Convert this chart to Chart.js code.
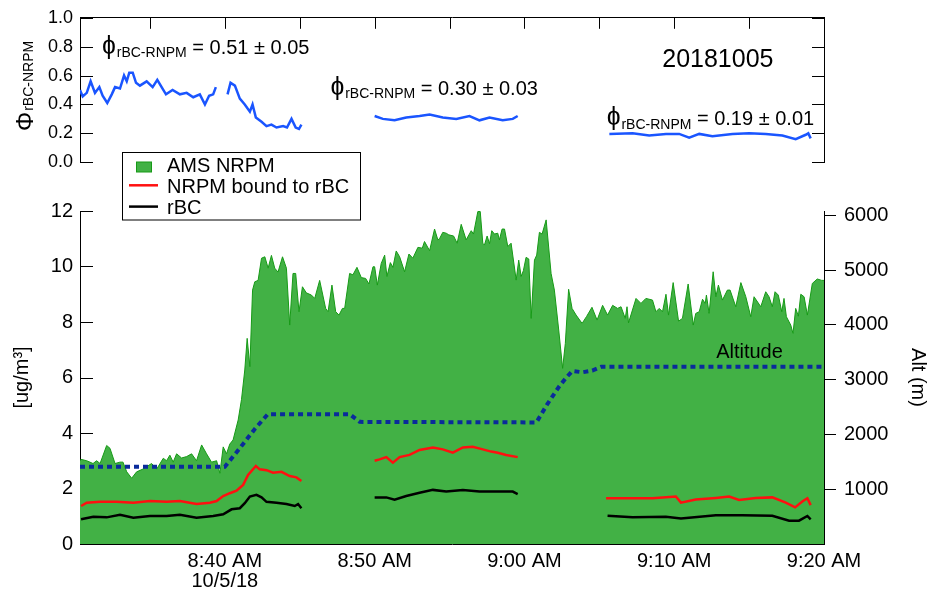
<!DOCTYPE html>
<html>
<head>
<meta charset="utf-8">
<script src="https://cdn.jsdelivr.net/npm/chart.js@4.4.1/dist/chart.umd.min.js"></script>
<style>
  html, body { margin: 0; padding: 0; background: #fff; }
  #wrap { position: relative; width: 933px; height: 591px; }
  #topChart { position: absolute; left: 0; top: 0; }
  #botChart { position: absolute; left: 0; top: 140px; }
</style>
</head>
<body>
<div id="wrap">
  <canvas id="topChart" width="933" height="180"></canvas>
  <canvas id="botChart" width="933" height="451"></canvas>
</div>
<script>
// time is in minutes after 8:00 AM (10/5/18)
const xMin = 30.33, xMax = 80;
const timeTicks = [35, 40, 45, 50, 55, 60, 65, 70, 75, 80];
const timeLabels = { 40: ['8:40 AM', '10/5/18'], 50: '8:50 AM', 60: '9:00 AM', 70: '9:10 AM', 80: '9:20 AM' };
const phiTicks = [0, 0.2, 0.4, 0.6, 0.8, 1.0];
const massTicks = [0, 2, 4, 6, 8, 10, 12];
const altTicks = [1000, 2000, 3000, 4000, 5000, 6000];

// AMS NRPM (ug/m3)
const amsTime = [30.33, 30.40, 30.78, 31.2, 31.44, 31.67, 32.11, 32.33, 32.67, 33.0, 33.2, 33.45, 33.78, 34.11, 34.53, 35.11, 35.45, 35.89, 36.11, 36.33,
  36.55, 36.78, 37.11, 37.45, 37.78, 38.11, 38.45, 38.78, 39.11, 39.45, 39.67, 39.89, 40.11, 40.33, 40.55, 40.89, 41.11, 41.33, 41.49, 41.67,
  41.85, 42.0, 42.22, 42.45, 42.67, 42.89, 43.11, 43.33, 43.55, 43.85, 44.11, 44.33, 44.55, 44.73, 44.95, 45.18, 45.44, 45.78, 46.0, 46.33,
  46.73, 46.89, 47.15, 47.4, 47.62, 47.85, 48.0, 48.33, 48.55, 48.82, 49.11, 49.4, 49.62, 49.89, 50.0, 50.18, 50.44, 50.67, 50.82, 51.05,
  51.22, 51.44, 51.67, 52.0, 52.29, 52.55, 52.89, 53.18, 53.33, 53.67, 54.0, 54.22, 54.33, 54.55, 54.78, 54.95, 55.27, 55.51, 55.78, 56.11,
  56.45, 56.6, 56.89, 57.05, 57.22, 57.33, 57.51, 57.67, 57.82, 58.0, 58.22, 58.33, 58.51, 58.67, 58.89, 59.11, 59.45, 59.62, 59.78, 59.93,
  60.11, 60.29, 60.45, 60.67, 60.82, 61.0, 61.18, 61.45, 61.78, 62.0, 62.29, 62.55, 62.73, 62.95, 63.18, 63.45, 63.85, 64.15, 64.51, 64.85,
  65.22, 65.55, 65.89, 66.22, 66.45, 66.73, 66.85, 66.95, 67.45, 67.78, 68.11, 68.55, 68.78, 69.0, 69.22, 69.45, 69.62, 69.93, 70.29, 70.55,
  70.93, 71.27, 71.44, 71.67, 71.89, 72.07, 72.15, 72.33, 72.6, 72.78, 72.95, 73.22, 73.55, 73.73, 74.11, 74.45, 74.78, 75.11, 75.33, 75.78,
  76.11, 76.33, 76.55, 76.73, 76.95, 77.18, 77.33, 77.49, 77.78, 77.93, 78.11, 78.29, 78.45, 78.67, 78.89, 79.22, 79.55, 79.85, 80.0];
const amsNrpm = [3.0, 3.05, 3.0, 2.9, 3.0, 2.9, 3.55, 3.45, 2.9, 2.95, 2.95, 2.6, 2.37, 2.6, 2.7, 2.9, 2.7, 3.09, 3.0, 3.2,
  2.95, 3.25, 3.1, 3.15, 3.25, 3.0, 3.57, 3.25, 2.95, 3.0, 2.55, 3.5, 3.25, 3.6, 3.75, 4.47, 5.2, 6.27, 7.41, 6.39,
  9.15, 9.45, 9.5, 10.3, 10.35, 9.94, 10.4, 9.94, 9.8, 10.35, 9.94, 7.89, 9.75, 9.75, 8.37, 9.27, 9.05, 8.97, 8.85, 9.5,
  8.49, 8.37, 9.33, 8.37, 8.25, 8.49, 8.49, 9.75, 9.7, 9.97, 9.6, 9.57, 9.37, 9.99, 9.99, 9.33, 10.11, 10.41, 9.64, 10.14,
  9.97, 10.56, 10.35, 9.81, 10.45, 10.3, 10.69, 10.66, 10.9, 10.57, 11.35, 10.96, 11.0, 11.23, 11.2, 11.14, 11.1, 10.84, 11.52, 10.96,
  11.29, 11.17, 11.98, 11.98, 10.84, 10.77, 11.1, 10.82, 11.29, 11.17, 11.2, 10.96, 11.35, 11.35, 10.72, 10.84, 9.51, 10.23, 9.64, 9.85,
  10.33, 10.27, 8.13, 10.23, 10.41, 11.23, 11.17, 11.68, 9.75, 9.15, 7.71, 6.33, 7.23, 9.18, 8.49, 8.25, 7.95, 8.2, 8.53, 8.07,
  8.6, 8.25, 8.6, 8.49, 8.55, 8.13, 8.55, 7.97, 8.85, 8.67, 8.85, 8.79, 8.37, 8.49, 8.37, 9.0, 8.25, 9.42, 8.03, 8.13,
  9.37, 7.89, 8.31, 8.37, 8.82, 8.67, 8.97, 8.31, 9.81, 8.91, 9.33, 8.79, 9.15, 9.15, 8.55, 9.42, 8.91, 8.19, 8.91, 8.55,
  9.09, 8.91, 8.55, 9.09, 8.97, 8.37, 8.85, 8.19, 7.89, 7.59, 8.49, 8.21, 9.0, 8.91, 8.25, 9.39, 9.55, 9.5, 9.5];

// NRPM bound to rBC (null = gap between legs)
const boundTime = [30.40, 30.78, 31.67, 32.78, 33.89, 35.0, 36.11, 37.0, 38.11, 39.0, 39.45, 39.89, 40.33, 40.78, 41.22, 41.55, 42.07, 42.33, 42.78, 43.22,
  43.78, 44.33, 44.78, 45.11, 47.5,
  50.0, 50.33, 50.78, 51.22, 51.67, 52.33, 53.0, 53.89, 54.55, 55.22, 55.89, 56.55, 57.22, 57.78, 58.22, 58.78, 59.55, 62.5,
  65.45, 65.55, 67.22, 68.55, 70.11, 70.45, 71.44, 72.78, 73.67, 74.33, 75.44, 76.55, 77.45, 78.07, 78.55, 78.89, 79.11];
const boundNrpm = [1.37, 1.49, 1.52, 1.52, 1.49, 1.55, 1.52, 1.55, 1.44, 1.49, 1.55, 1.73, 1.83, 1.92, 2.13, 2.49, 2.81, 2.69, 2.66, 2.57,
  2.6, 2.45, 2.4, 2.27, null,
  3.0, 3.05, 3.13, 2.93, 3.13, 3.21, 3.39, 3.48, 3.41, 3.29, 3.48, 3.5, 3.41, 3.33, 3.29, 3.21, 3.13, null,
  1.65, 1.65, 1.65, 1.65, 1.71, 1.49, 1.6, 1.66, 1.71, 1.59, 1.66, 1.68, 1.49, 1.32, 1.53, 1.65, 1.4];

// rBC
const rbcTime = [30.40, 31.22, 32.11, 33.0, 33.89, 35.0, 36.11, 37.0, 38.11, 39.22, 39.89, 40.45, 41.0, 41.33, 41.67, 42.11, 42.45, 42.78, 43.45, 44.11,
  44.67, 44.89, 45.11, 47.5,
  50.0, 50.78, 51.33, 52.11, 53.0, 53.89, 54.78, 55.89, 57.0, 58.33, 59.22, 59.55, 62.5,
  65.55, 67.22, 69.44, 70.45, 72.78, 74.55, 76.55, 77.67, 78.33, 78.89, 79.11];
const rbcMass = [0.89, 0.98, 0.96, 1.05, 0.95, 1.01, 1.01, 1.05, 0.95, 1.01, 1.07, 1.25, 1.29, 1.47, 1.71, 1.77, 1.68, 1.52, 1.49, 1.44,
  1.37, 1.44, 1.29, null,
  1.68, 1.68, 1.6, 1.73, 1.85, 1.95, 1.89, 1.95, 1.89, 1.89, 1.89, 1.8, null,
  1.02, 0.96, 0.98, 0.92, 1.04, 1.04, 1.02, 0.84, 0.84, 1.01, 0.89];

// phi rBC-NRPM (top panel)
const phiTime = [30.33, 30.51, 30.78, 31.04, 31.33, 31.62, 31.84, 32.15, 32.45, 32.67, 33.0, 33.27, 33.45, 33.62, 33.85, 34.07, 34.33, 34.78, 35.18, 35.49,
  35.78, 36.07, 36.51, 37.0, 37.45, 37.89, 38.33, 38.67, 38.95, 39.22, 39.4, 39.8,
  40.18, 40.38, 40.67, 41.0, 41.33, 41.67, 41.85, 42.07, 42.45, 42.78, 43.11, 43.45, 43.89, 44.15, 44.45, 44.73, 44.95, 45.11, 47.5,
  50.0, 50.55, 51.33, 52.11, 53.0, 53.67, 54.55, 55.45, 56.33, 57.0, 57.67, 58.55, 59.22, 59.55, 62.5,
  65.67, 67.22, 68.33, 69.45, 70.33, 71.0, 71.67, 72.55, 73.89, 75.0, 76.11, 77.22, 78.11, 78.78, 78.95, 79.11];
const phiVal = [0.5, 0.455, 0.48, 0.56, 0.48, 0.52, 0.46, 0.41, 0.47, 0.52, 0.51, 0.6, 0.56, 0.62, 0.62, 0.55, 0.53, 0.56, 0.52, 0.57,
  0.52, 0.47, 0.5, 0.47, 0.48, 0.45, 0.47, 0.4, 0.46, 0.47, 0.52, null,
  0.47, 0.55, 0.53, 0.44, 0.4, 0.35, 0.4, 0.31, 0.28, 0.25, 0.26, 0.24, 0.25, 0.24, 0.3, 0.24, 0.23, 0.26, null,
  0.32, 0.3, 0.29, 0.31, 0.32, 0.33, 0.31, 0.3, 0.32, 0.29, 0.31, 0.29, 0.3, 0.32, null,
  0.196, 0.2, 0.185, 0.196, 0.196, 0.17, 0.196, 0.18, 0.196, 0.2, 0.196, 0.185, 0.16, 0.19, 0.2, 0.165];
const phiNotes = ['0.51 ± 0.05', '0.30 ± 0.03', '0.19 ± 0.01'];

// aircraft altitude (m)
const altTime = [30.33, 40.0, 41.0, 42.0, 42.87, 48.33, 49.0, 60.8, 61.53, 62.33, 62.8, 63.2, 63.87, 64.53, 65.13, 80.0];
const altM = [1410, 1410, 1750, 2100, 2370, 2370, 2230, 2220, 2555, 2880, 3040, 3160, 3135, 3165, 3235, 3235];

const FONT = '"Liberation Sans", Arial, sans-serif';
Chart.defaults.font.family = FONT;
Chart.defaults.color = '#000';

const pts = (ts, vs) => ts.map((t, i) => ({ x: t, y: vs[i] }));
const setTicks = vals => scale => { scale.ticks = vals.map(v => ({ value: v })); };

// tick marks pointing into the plot, drawn under the data
function innerTicks(marks) {
  return {
    id: 'innerTicks',
    beforeDatasetsDraw(chart) {
      const { ctx, chartArea: a } = chart;
      ctx.save();
      ctx.strokeStyle = '#000';
      ctx.lineWidth = 1;
      marks.forEach(m => {
        const s = chart.scales[m.axis];
        s.ticks.forEach(t => {
          const p = Math.round(s.getPixelForValue(t.value)) + 0.5;
          ctx.beginPath();
          if (m.edge === 'left') { ctx.moveTo(a.left, p); ctx.lineTo(a.left + m.len, p); }
          if (m.edge === 'right') { ctx.moveTo(a.right, p); ctx.lineTo(a.right - m.len, p); }
          if (m.edge === 'top') { ctx.moveTo(p, a.top); ctx.lineTo(p, a.top + m.len); }
          if (m.edge === 'bottom') { ctx.moveTo(p, a.bottom); ctx.lineTo(p, a.bottom - m.len); }
          ctx.stroke();
        });
      });
      ctx.restore();
    }
  };
}

// phi symbol + subscript (+ optional rest of the text)
function drawPhi(ctx, glyph, gSize, x, y, sub, rest, big, small, drop) {
  ctx.font = gSize + 'px ' + FONT;
  ctx.fillText(glyph, x, y);
  let w = ctx.measureText(glyph).width + 1;
  ctx.font = small + 'px ' + FONT;
  ctx.fillText(sub, x + w, y + drop);
  w += ctx.measureText(sub).width;
  if (rest) {
    ctx.font = big + 'px ' + FONT;
    ctx.fillText(rest, x + w, y);
  }
}

const topNotes = {
  id: 'topNotes',
  afterDraw(chart) {
    const { ctx, scales: { x, y } } = chart;
    ctx.save();
    ctx.fillStyle = '#000';
    ctx.textBaseline = 'alphabetic';
    const at = [[31.8, 0.75], [47.05, 0.466], [65.49, 0.257]];
    phiNotes.forEach((txt, i) => {
      drawPhi(ctx, 'ɸ', 25, x.getPixelForValue(at[i][0]), y.getPixelForValue(at[i][1]), 'rBC-RNPM', ' = ' + txt, 20, 14, 3.5);
    });
    ctx.font = '25px ' + FONT;
    ctx.fillText('20181005', x.getPixelForValue(69.2), y.getPixelForValue(0.662));
    // axis title
    ctx.translate(33, 131);
    ctx.rotate(-Math.PI / 2);
    drawPhi(ctx, 'Φ', 24, 0, 0, 'rBC-NRPM', '', 24, 14, 0);
    ctx.restore();
  }
};

const botNotes = {
  id: 'botNotes',
  afterDraw(chart) {
    const { ctx, scales: { x, alt } } = chart;
    ctx.save();
    ctx.fillStyle = '#000';
    ctx.font = '20px ' + FONT;
    ctx.textBaseline = 'alphabetic';
    ctx.fillText('Altitude', x.getPixelForValue(72.8), alt.getPixelForValue(3394));

    // legend box
    ctx.fillStyle = '#fff';
    ctx.fillRect(122.5, 12.5, 238, 67.5);
    ctx.strokeStyle = '#000';
    ctx.lineWidth = 1;
    ctx.strokeRect(122.5, 12.5, 238, 67.5);
    const items = chart.data.datasets.filter(d => d.inLegend);
    items.forEach((d, i) => {
      const base = 31.5 + i * 21.3;
      const mid = base - 7.5;
      if (d.fill) {
        ctx.fillStyle = d.backgroundColor;
        ctx.fillRect(136.5, mid - 2, 15, 10);
        ctx.strokeStyle = d.borderColor;
        ctx.strokeRect(136.5, mid - 2, 15, 10);
      } else {
        ctx.strokeStyle = d.borderColor;
        ctx.lineWidth = 2.5;
        ctx.beginPath();
        ctx.moveTo(129, mid);
        ctx.lineTo(158, mid);
        ctx.stroke();
        ctx.lineWidth = 1;
      }
      ctx.fillStyle = '#000';
      ctx.fillText(d.label, 167, base);
    });
    ctx.restore();
  }
};

const axisLine = { display: true, color: '#000', width: 1 };

// top panel: phi
new Chart(document.getElementById('topChart'), {
  type: 'line',
  data: {
    datasets: [{
      label: 'phi',
      data: pts(phiTime, phiVal),
      borderColor: '#1a55ff',
      borderWidth: 2.5,
      pointRadius: 0,
      spanGaps: false,
      tension: 0
    }]
  },
  options: {
    responsive: false,
    animation: false,
    layout: { padding: { top: 0, bottom: 16, left: 0, right: 0 } },
    plugins: { legend: { display: false }, tooltip: { enabled: false } },
    scales: {
      x: {
        type: 'linear', position: 'top', min: xMin, max: xMax,
        afterBuildTicks: setTicks(timeTicks),
        ticks: { display: false },
        grid: { display: false, drawTicks: false },
        border: axisLine,
        afterFit: s => { s.height = 16; }
      },
      y: {
        position: 'left', min: 0, max: 1,
        afterBuildTicks: setTicks(phiTicks),
        ticks: { padding: 7, font: { size: 18 }, callback: v => v.toFixed(1) },
        grid: { display: false, drawTicks: false },
        border: axisLine,
        afterFit: s => { s.width = 80; }
      },
      y2: {
        position: 'right', min: 0, max: 1,
        afterBuildTicks: setTicks(phiTicks),
        ticks: { display: false },
        grid: { display: false, drawTicks: false },
        border: axisLine,
        afterFit: s => { s.width = 109; }
      }
    }
  },
  plugins: [innerTicks([
    { axis: 'y', edge: 'left', len: 13 },
    { axis: 'y2', edge: 'right', len: 12 },
    { axis: 'x', edge: 'top', len: 11 }
  ]), topNotes]
});

// bottom panel: mass concentrations and altitude
new Chart(document.getElementById('botChart'), {
  type: 'line',
  data: {
    datasets: [
      {
        label: 'AMS NRPM', inLegend: true,
        data: pts(amsTime, amsNrpm),
        borderColor: '#169a16', backgroundColor: '#42b145',
        borderWidth: 1, fill: 'origin', pointRadius: 0, tension: 0,
        yAxisID: 'y', order: 4
      },
      {
        label: 'NRPM bound to rBC', inLegend: true,
        data: pts(boundTime, boundNrpm),
        borderColor: '#ff1010', borderWidth: 2.5, fill: false, pointRadius: 0,
        spanGaps: false, yAxisID: 'y', order: 2
      },
      {
        label: 'rBC', inLegend: true,
        data: pts(rbcTime, rbcMass),
        borderColor: '#000000', borderWidth: 2.5, fill: false, pointRadius: 0,
        spanGaps: false, yAxisID: 'y', order: 1
      },
      {
        label: 'Altitude',
        data: pts(altTime, altM),
        borderColor: '#0a2b9b', borderWidth: 4, borderDash: [5, 4], fill: false, pointRadius: 0,
        yAxisID: 'alt', order: 3
      }
    ]
  },
  options: {
    responsive: false,
    animation: false,
    layout: { padding: { top: 71, bottom: 0, left: 0, right: 0 } },
    plugins: { legend: { display: false }, tooltip: { enabled: false } },
    scales: {
      x: {
        type: 'linear', position: 'bottom', min: xMin, max: xMax,
        afterBuildTicks: setTicks(timeTicks),
        ticks: {
          padding: 7, maxRotation: 0, autoSkip: false,
          font: { size: 20, lineHeight: 1.0 },
          callback: v => timeLabels[v] || ''
        },
        grid: { display: false, drawTicks: false },
        border: axisLine,
        afterFit: s => { s.height = 47; }
      },
      y: {
        position: 'left', min: 0, max: 12,
        afterBuildTicks: setTicks(massTicks),
        ticks: { padding: 7, font: { size: 20 } },
        grid: { display: false, drawTicks: false },
        border: axisLine,
        title: { display: true, text: '[ug/m³]', font: { size: 20 }, padding: { top: 10 } },
        afterFit: s => { s.width = 80; }
      },
      alt: {
        position: 'right', min: 0, max: 6080,
        afterBuildTicks: setTicks(altTicks),
        ticks: { padding: 8, font: { size: 20 }, callback: v => String(v) },
        grid: { display: true, drawOnChartArea: false, drawTicks: true, tickLength: 12, tickColor: '#000' },
        border: axisLine,
        title: { display: true, text: 'Alt (m)', font: { size: 20 }, padding: { top: 3 } },
        afterFit: s => { s.width = 109; }
      }
    }
  },
  plugins: [innerTicks([
    { axis: 'y', edge: 'left', len: 13 },
    { axis: 'x', edge: 'bottom', len: 4 }
  ]), botNotes]
});
</script>
</body>
</html>
